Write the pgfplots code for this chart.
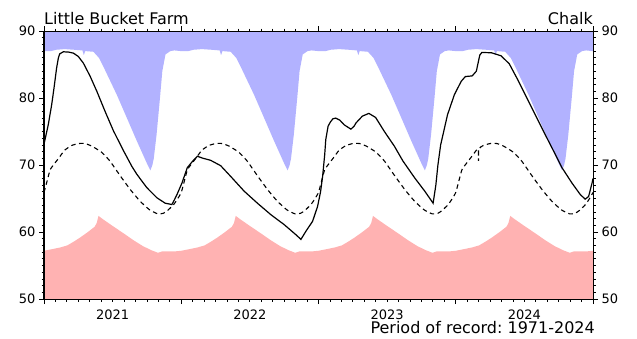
\documentclass[border=0pt]{standalone}
\usepackage{pgfplots}
\pgfplotsset{compat=1.18}
\usepackage{fontspec}
\setmainfont{DejaVu Sans}
\frenchspacing

\definecolor{maxblue}{RGB}{178,178,255}
\definecolor{minred}{RGB}{255,178,178}

\pgfplotsset{
  levelframe/.style={
    at={(0,0)}, anchor=south west,
    scale only axis, width=549pt, height=268pt,
    xmin=2021, xmax=2025, ymin=50, ymax=90,
    ytick={50,60,70,80,90},
    minor y tick num=9,
    tick align=outside,
    major tick length=5pt, minor tick length=2.5pt,
    tick label style={font=\fontsize{13}{15}\selectfont},
    /pgf/number format/assume math mode=true,
    axis line style={line width=1pt},
    every tick/.style={black, line width=0.8pt},
  },
}

\begin{document}
\begin{tikzpicture}
\useasboundingbox (-44pt,-39pt) rectangle (593pt,299pt);

\begin{axis}[
  levelframe,
  xtick={2021,2022,2023,2024,2025},
  x tick label as interval,
  xticklabels={2021,2022,2023,2024},
  xticklabel style={yshift=-2pt},
  minor x tick num=11,
  ytick pos=left,
  axis on top,
]

% historical maximum envelope, filled down from the top of the frame
\addplot[fill=maxblue, draw=none] coordinates {
 (2021,90)
 (2021.00,87.0) (2021.05,87.0) (2021.09,87.2) (2021.15,87.3) (2021.22,87.2) (2021.28,87.1) (2021.29,86.4) (2021.30,87.0)
 (2021.36,86.9) (2021.40,86.0) (2021.43,84.8) (2021.53,80.5) (2021.60,77.2) (2021.676,73.6) (2021.72,71.6) (2021.755,70.0)
 (2021.775,69.2) (2021.79,70.0) (2021.80,71.0) (2021.82,74.5) (2021.845,80.0) (2021.862,84.0) (2021.885,86.5) (2021.92,87.0) (2021.95,87.1)
 (2022.00,87.0) (2022.05,87.0) (2022.09,87.2) (2022.15,87.3) (2022.22,87.2) (2022.28,87.1) (2022.29,86.4) (2022.30,87.0)
 (2022.36,86.9) (2022.40,86.0) (2022.43,84.8) (2022.53,80.5) (2022.60,77.2) (2022.676,73.6) (2022.72,71.6) (2022.755,70.0)
 (2022.775,69.2) (2022.79,70.0) (2022.80,71.0) (2022.82,74.5) (2022.845,80.0) (2022.862,84.0) (2022.885,86.5) (2022.92,87.0) (2022.95,87.1)
 (2023.00,87.0) (2023.05,87.0) (2023.09,87.2) (2023.15,87.3) (2023.22,87.2) (2023.28,87.1) (2023.29,86.4) (2023.30,87.0)
 (2023.36,86.9) (2023.40,86.0) (2023.43,84.8) (2023.53,80.5) (2023.60,77.2) (2023.676,73.6) (2023.72,71.6) (2023.755,70.0)
 (2023.775,69.2) (2023.79,70.0) (2023.80,71.0) (2023.82,74.5) (2023.845,80.0) (2023.862,84.0) (2023.885,86.5) (2023.92,87.0) (2023.95,87.1)
 (2024.00,87.0) (2024.05,87.0) (2024.09,87.2) (2024.15,87.3) (2024.22,87.2) (2024.28,87.1) (2024.29,86.4) (2024.30,87.0)
 (2024.36,86.9) (2024.40,86.0) (2024.43,84.8) (2024.53,80.5) (2024.60,77.2) (2024.676,73.6) (2024.72,71.6) (2024.755,70.0)
 (2024.775,69.2) (2024.79,70.0) (2024.80,71.0) (2024.82,74.5) (2024.845,80.0) (2024.862,84.0) (2024.885,86.5) (2024.92,87.0) (2024.95,87.1)
 (2025.00,87.0)
 (2025,90)
} -- cycle;

% historical minimum envelope, filled up from the bottom of the frame
\addplot[fill=minred, draw=none] coordinates {
 (2021,50)
 (2021.00,57.2) (2021.05,57.4) (2021.12,57.7) (2021.17,58.0) (2021.22,58.6) (2021.265,59.2) (2021.32,60.0) (2021.37,60.8) (2021.385,61.4)
 (2021.397,62.4) (2021.43,61.9) (2021.50,60.9) (2021.58,59.8) (2021.65,58.8) (2021.72,57.9) (2021.78,57.3) (2021.83,56.9) (2021.86,57.1) (2021.95,57.1)
 (2022.00,57.2) (2022.05,57.4) (2022.12,57.7) (2022.17,58.0) (2022.22,58.6) (2022.265,59.2) (2022.32,60.0) (2022.37,60.8) (2022.385,61.4)
 (2022.397,62.4) (2022.43,61.9) (2022.50,60.9) (2022.58,59.8) (2022.65,58.8) (2022.72,57.9) (2022.78,57.3) (2022.83,56.9) (2022.86,57.1) (2022.95,57.1)
 (2023.00,57.2) (2023.05,57.4) (2023.12,57.7) (2023.17,58.0) (2023.22,58.6) (2023.265,59.2) (2023.32,60.0) (2023.37,60.8) (2023.385,61.4)
 (2023.397,62.4) (2023.43,61.9) (2023.50,60.9) (2023.58,59.8) (2023.65,58.8) (2023.72,57.9) (2023.78,57.3) (2023.83,56.9) (2023.86,57.1) (2023.95,57.1)
 (2024.00,57.2) (2024.05,57.4) (2024.12,57.7) (2024.17,58.0) (2024.22,58.6) (2024.265,59.2) (2024.32,60.0) (2024.37,60.8) (2024.385,61.4)
 (2024.397,62.4) (2024.43,61.9) (2024.50,60.9) (2024.58,59.8) (2024.65,58.8) (2024.72,57.9) (2024.78,57.3) (2024.83,56.9) (2024.86,57.1) (2024.95,57.1)
 (2025.00,57.2)
 (2025,50)
} -- cycle;

% long-term average level
\addplot[black, line width=1.1pt, dash pattern=on 4.5pt off 3.5pt, smooth, tension=0.3] coordinates {
 (2021.00,65.9) (2021.02,67.4) (2021.045,69.3) (2021.08,70.3) (2021.11,71.1) (2021.15,72.2) (2021.20,72.9) (2021.25,73.2) (2021.30,73.2)
 (2021.35,72.8) (2021.42,71.9) (2021.48,70.6) (2021.555,68.4) (2021.63,66.3) (2021.70,64.6) (2021.77,63.3) (2021.83,62.7) (2021.87,62.8)
 (2021.90,63.2) (2021.945,64.1) (2021.975,65.0)
 (2022.00,65.9) (2022.02,67.4) (2022.045,69.3) (2022.08,70.3) (2022.11,71.1) (2022.15,72.2) (2022.20,72.9) (2022.25,73.2) (2022.30,73.2)
 (2022.35,72.8) (2022.42,71.9) (2022.48,70.6) (2022.555,68.4) (2022.63,66.3) (2022.70,64.6) (2022.77,63.3) (2022.83,62.7) (2022.87,62.8)
 (2022.90,63.2) (2022.945,64.1) (2022.975,65.0)
 (2023.00,65.9) (2023.02,67.4) (2023.045,69.3) (2023.08,70.3) (2023.11,71.1) (2023.15,72.2) (2023.20,72.9) (2023.25,73.2) (2023.30,73.2)
 (2023.35,72.8) (2023.42,71.9) (2023.48,70.6) (2023.555,68.4) (2023.63,66.3) (2023.70,64.6) (2023.77,63.3) (2023.83,62.7) (2023.87,62.8)
 (2023.90,63.2) (2023.945,64.1) (2023.975,65.0)
 (2024.00,65.9) (2024.02,67.4) (2024.045,69.3) (2024.08,70.3) (2024.11,71.1) (2024.15,72.2) (2024.165,72.4) (2024.166,70.6) (2024.168,72.4)
 (2024.20,72.9) (2024.25,73.2) (2024.30,73.2)
 (2024.35,72.8) (2024.42,71.9) (2024.48,70.6) (2024.555,68.4) (2024.63,66.3) (2024.70,64.6) (2024.77,63.3) (2024.83,62.7) (2024.87,62.8)
 (2024.90,63.2) (2024.945,64.1) (2024.975,65.0)
 (2025.00,65.9)
};

% observed level
\addplot[black, line width=1.2pt] coordinates {
 (2021.000,73.1) (2021.015,74.5) (2021.031,76.0) (2021.056,79.0) (2021.073,81.5) (2021.092,84.5) (2021.105,86.0) (2021.115,86.6)
 (2021.141,86.9) (2021.180,86.85) (2021.214,86.7) (2021.250,86.2) (2021.287,85.2) (2021.336,83.25) (2021.385,81.0) (2021.445,78.0)
 (2021.506,75.1) (2021.580,72.1) (2021.640,69.8) (2021.677,68.6) (2021.750,66.6) (2021.823,65.1) (2021.883,64.3) (2021.932,64.1)
 (2021.950,64.8) (2021.969,65.6) (2022.005,67.3) (2022.044,69.6) (2022.080,70.5) (2022.117,71.3) (2022.160,71.0) (2022.214,70.7)
 (2022.287,69.9) (2022.360,68.3) (2022.458,66.1) (2022.555,64.3) (2022.652,62.6) (2022.750,61.1) (2022.835,59.6) (2022.872,58.9)
 (2022.908,60.1) (2022.957,61.6) (2022.993,63.8) (2023.015,66.0) (2023.030,68.3) (2023.045,71.5) (2023.053,73.8) (2023.070,75.8)
 (2023.086,76.4) (2023.105,76.9) (2023.126,77.0) (2023.155,76.7) (2023.187,76.0) (2023.236,75.35) (2023.260,75.8) (2023.272,76.25)
 (2023.320,77.3) (2023.367,77.7) (2023.416,77.1) (2023.480,75.0) (2023.553,72.8) (2023.615,70.6) (2023.700,68.1) (2023.774,66.1)
 (2023.835,64.3) (2023.855,67.0) (2023.870,70.0) (2023.890,73.0) (2023.940,77.5) (2023.990,80.5) (2024.040,82.5) (2024.070,83.2)
 (2024.120,83.3) (2024.150,84.0) (2024.175,86.4) (2024.190,86.8) (2024.260,86.75) (2024.330,86.3) (2024.390,85.1) (2024.455,82.6)
 (2024.550,78.7) (2024.650,74.6) (2024.720,71.8) (2024.774,69.6) (2024.847,67.3) (2024.907,65.6) (2024.943,64.9) (2024.968,65.3)
 (2024.993,67.3) (2025.000,68.0)
};
\end{axis}

% right-hand scale
\begin{axis}[
  levelframe,
  hide x axis,
  ytick pos=right,
  yticklabel pos=right,
]
\end{axis}

\node[anchor=base west, inner sep=0, font=\fontsize{16}{19}\selectfont] at (0pt,274pt) {Little Bucket Farm};
\node[anchor=base east, inner sep=0, font=\fontsize{16}{19}\selectfont] at (549pt,274pt) {Chalk};
\node[anchor=base east, inner sep=0, font=\fontsize{16}{19}\selectfont] at (551pt,-34pt) {Period of record: 1971-2024};
\end{tikzpicture}
\end{document}
